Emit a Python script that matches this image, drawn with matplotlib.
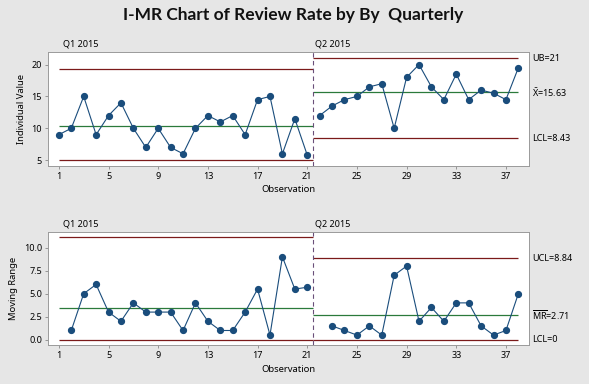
import numpy as np
import matplotlib
matplotlib.use("Agg")
import matplotlib.pyplot as plt

plt.rcParams['font.family'] = ['Noto Sans', 'DejaVu Sans']

# data
stages = ["Q1 2015", "Q2 2015"]
q1_values = [9, 10, 15, 9, 12, 14, 10, 7, 10, 7, 6, 10, 12, 11, 12, 9, 14.5, 15, 6, 11.5, 5.8]
q2_values = [12, 13.5, 14.5, 15, 16.5, 17, 10, 18, 20, 16.5, 14.5, 18.5, 14.5, 16, 15.5, 14.5, 19.5]

# control limits per stage (center, upper, lower)
i_limits = [(10.31, 19.37, 5.0), (15.63, 21.0, 8.43)]
mr_limits = [(3.41, 11.14, 0.0), (2.71, 8.84, 0.0)]
i_labels = ["UB=21", r"$\mathregular{\bar{X}}$=15.63", "LCL=8.43"]
mr_labels = ["UCL=8.84", r"$\mathregular{\overline{MR}}$=2.71", "LCL=0"]
xticks = [1, 5, 9, 13, 17, 21, 25, 29, 33, 37]

blue = '#1a4d7c'
red = '#7b1a1a'
green = '#2b7a3b'
bg = '#e6e6e6'

fig = plt.figure(figsize=(5.89, 3.84), dpi=100, facecolor=bg)
fig.suptitle("I-MR Chart of Review Rate by By  Quarterly", x=0.497, y=0.982, fontsize=12.5,
             fontweight='bold', color='#111111', family=['Lato', 'DejaVu Sans'])

ax1 = fig.add_axes([0.082, 0.568, 0.816, 0.297])
ax2 = fig.add_axes([0.082, 0.101, 0.816, 0.296])

n1 = len(q1_values)
n2 = len(q2_values)
x1 = np.arange(1, n1 + 1)
x2 = np.arange(n1 + 1, n1 + n2 + 1)
split = n1 + 0.5
spans = [(1, split), (split, n1 + n2)]

mr1 = np.abs(np.diff(q1_values))
mr2 = np.abs(np.diff(q2_values))

series_i = [(x1, q1_values), (x2, q2_values)]
series_mr = [(x1[1:], mr1), (x2[1:], mr2)]

for ax, series, limits, labels in [(ax1, series_i, i_limits, i_labels),
                                   (ax2, series_mr, mr_limits, mr_labels)]:
    ax.set_facecolor('white')
    for (xs, ys), (c, u, l), (a, b) in zip(series, limits, spans):
        ax.hlines([u, l], a, b, color=red, lw=0.9, zorder=2)
        ax.hlines(c, a, b, color=green, lw=0.9, zorder=2)
        ax.plot(xs, ys, color=blue, lw=0.8, marker='o', ms=4.2, zorder=3)
    ax.axvline(split, color='#6a4f7a', lw=0.8, ls=(0, (4, 3)), zorder=2)
    ax.set_xlim(0.15, 38.85)
    ax.set_xticks(xticks)
    ax.tick_params(labelsize=6.5, length=2.5, width=0.6, color='#888888', pad=2)
    for s in ax.spines.values():
        s.set_color('#9a9a9a')
        s.set_linewidth(0.7)
    ax.set_xlabel("Observation", fontsize=6.8, labelpad=3)
    # stage labels above the panel
    ax.text(1.3, 1.025, stages[0], transform=ax.get_xaxis_transform(), fontsize=6.5,
            va='bottom', ha='left')
    ax.text(split + 0.1, 1.025, stages[1], transform=ax.get_xaxis_transform(), fontsize=6.5,
            va='bottom', ha='left')
    # limit labels for the last stage on the right
    c, u, l = limits[1]
    for val, lab in zip([u, c, l], labels):
        ax.text(1.007, val, lab, transform=ax.get_yaxis_transform(), fontsize=6.5,
                va='center', ha='left')

ax1.set_ylim(4.1, 22)
ax1.set_yticks([5, 10, 15, 20])
ax1.set_ylabel("Individual Value", fontsize=6.8, labelpad=4)

ax2.set_ylim(-0.6, 11.75)
ax2.set_yticks([0, 2.5, 5, 7.5, 10])
ax2.set_yticklabels(["0.0", "2.5", "5.0", "7.5", "10.0"])
ax2.set_ylabel("Moving Range", fontsize=6.8, labelpad=4)

fig.savefig("out.png", dpi=100, facecolor=bg)
